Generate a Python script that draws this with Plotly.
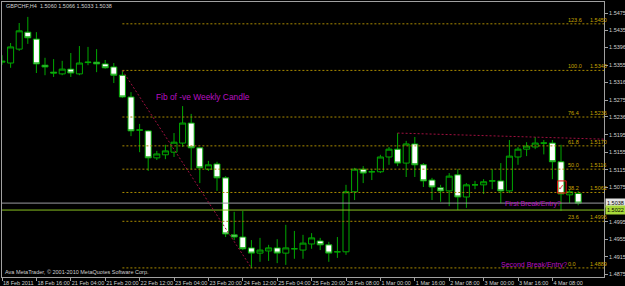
import plotly.graph_objects as go

# ---------------- data ----------------
opens = [1.5362, 1.5360, 1.5392, 1.5431, 1.5415, 1.5355, 1.5339, 1.5335, 1.5346, 1.5335,
         1.5361, 1.5362, 1.5358, 1.5351, 1.5332, 1.5282, 1.5206, 1.5204, 1.5142, 1.5149,
         1.5155, 1.5176, 1.5222, 1.5165, 1.5116, 1.5128, 1.5096, 1.4965, 1.4960, 1.4935,
         1.4923, 1.4928, 1.4935, 1.4923, 1.4933, 1.4930, 1.4944, 1.4951, 1.4942, 1.4926,
         1.4926, 1.5064, 1.5116, 1.5110, 1.5110, 1.5144, 1.5162, 1.5130, 1.5174, 1.5126,
         1.5091, 1.5073, 1.5066, 1.5103, 1.5052, 1.5080, 1.5080, 1.5089, 1.5089, 1.5066,
         1.5144, 1.5162, 1.5167, 1.5176, 1.5176, 1.5133, 1.5057, 1.5060]
highs = [1.5378, 1.5406, 1.5452, 1.5466, 1.5431, 1.5372, 1.5369, 1.5365, 1.5383, 1.5399,
         1.5397, 1.5392, 1.5367, 1.5360, 1.5343, 1.5293, 1.5220, 1.5206, 1.5158, 1.5172,
         1.5199, 1.5261, 1.5243, 1.5167, 1.5135, 1.5133, 1.5100, 1.5018, 1.5020, 1.4953,
         1.4958, 1.4942, 1.4955, 1.4988, 1.4974, 1.4965, 1.4969, 1.4958, 1.4949, 1.4960,
         1.5080, 1.5119, 1.5123, 1.5116, 1.5149, 1.5167, 1.5199, 1.5181, 1.5190, 1.5130,
         1.5096, 1.5080, 1.5107, 1.5116, 1.5084, 1.5089, 1.5093, 1.5116, 1.5130, 1.5183,
         1.5167, 1.5178, 1.5190, 1.5183, 1.5183, 1.5172, 1.5068, 1.5066]
lows = [1.5356, 1.5349, 1.5388, 1.5404, 1.5337, 1.5332, 1.5328, 1.5332, 1.5328, 1.5332,
        1.5355, 1.5339, 1.5347, 1.5314, 1.5280, 1.5192, 1.5155, 1.5112, 1.5137, 1.5139,
        1.5144, 1.5167, 1.5116, 1.5084, 1.5112, 1.5066, 1.4960, 1.4953, 1.4930, 1.4889,
        1.4903, 1.4905, 1.4900, 1.4896, 1.4910, 1.4910, 1.4933, 1.4930, 1.4903, 1.4912,
        1.4919, 1.5045, 1.5084, 1.5091, 1.5107, 1.5126, 1.5123, 1.5098, 1.5098, 1.5075,
        1.5045, 1.5041, 1.5031, 1.5022, 1.5027, 1.5070, 1.5059, 1.5070, 1.5038, 1.5061,
        1.5126, 1.5146, 1.5162, 1.5150, 1.5093, 1.5020, 1.5038, 1.5033]
closes = [1.5364, 1.5397, 1.5434, 1.5418, 1.5358, 1.5351, 1.5337, 1.5346, 1.5337, 1.5360,
          1.5362, 1.5358, 1.5349, 1.5332, 1.5282, 1.5204, 1.5206, 1.5142, 1.5151, 1.5158,
          1.5178, 1.5222, 1.5165, 1.5119, 1.5126, 1.5096, 1.4967, 1.4960, 1.4933, 1.4923,
          1.4930, 1.4935, 1.4923, 1.4935, 1.4933, 1.4946, 1.4958, 1.4942, 1.4923, 1.4926,
          1.5064, 1.5116, 1.5107, 1.5110, 1.5144, 1.5162, 1.5130, 1.5174, 1.5126, 1.5089,
          1.5075, 1.5066, 1.5100, 1.5052, 1.5080, 1.5080, 1.5087, 1.5089, 1.5066, 1.5146,
          1.5162, 1.5169, 1.5176, 1.5176, 1.5133, 1.5059, 1.5064, 1.5038]
bars = list(range(len(opens)))

date_labels = ["18 Feb 2011", "18 Feb 16:00", "21 Feb 04:00", "21 Feb 20:00", "22 Feb 12:00",
               "23 Feb 04:00", "23 Feb 20:00", "24 Feb 12:00", "25 Feb 04:00", "25 Feb 20:00",
               "28 Feb 08:00", "1 Mar 00:00", "1 Mar 16:00", "2 Mar 08:00", "3 Mar 00:00",
               "3 Mar 16:00", "4 Mar 08:00"]
date_label_bars = [4 * k for k in range(len(date_labels))]

price_ticks = [1.5475, 1.5435, 1.5396, 1.5355, 1.5316, 1.5275, 1.5236, 1.5195, 1.5155,
               1.5115, 1.5075, 1.4995, 1.4955, 1.4915, 1.4875]

fib_levels = [0.0, 23.6, 38.2, 50.0, 61.8, 76.4, 100.0, 123.6]
fib_high = 1.5343
fib_low = 1.4889
fib_start_bar = 14
fib_end_bar = 29

trend_bars = [46, 70]
trend_prices = [1.5199, 1.5185]

bid_price = 1.5038
hline_price = 1.5022

header = "GBPCHF,H4  1.5060 1.5066 1.5033 1.5038"
copyright_text = "Ava MetaTrader, © 2001-2010 MetaQuotes Software Corp."

# ---------------- styles ----------------
X_RANGE = [0, 70]
Y_RANGE = [1.48681, 1.55003]
FIB_COLOR = "#A88A00"
FIB_TEXT = "#C8A400"
RED_DOT = "#A01040"
WICK = "#00A800"
TXT = "#D0D0D0"
MAG = "#B810C0"
FONT = "Liberation Sans"

fig = go.Figure()

# fib level lines
for lv in fib_levels:
    p = fib_low + (fib_high - fib_low) * lv / 100.0
    fig.add_trace(go.Scatter(x=[fib_start_bar, X_RANGE[1]], y=[p, p], mode="lines",
                             line=dict(color=FIB_COLOR, width=1, dash="2px,2px"),
                             hoverinfo="skip", showlegend=False))
    fig.add_annotation(x=0.9377, xref="paper", y=p, yref="y", text=f"{lv:.1f}",
                       showarrow=False, xanchor="left", yanchor="bottom", yshift=-1,
                       font=dict(family=FONT, size=5.5, color=FIB_TEXT))
    fig.add_annotation(x=0.974, xref="paper", y=p, yref="y", text=f"{p:.4f}",
                       showarrow=False, xanchor="left", yanchor="bottom", yshift=-1,
                       font=dict(family=FONT, size=5.5, color=FIB_TEXT))

# horizontal lines
fig.add_trace(go.Scatter(x=X_RANGE, y=[bid_price, bid_price], mode="lines",
                         line=dict(color="#9A9AA0", width=1), hoverinfo="skip", showlegend=False))
fig.add_trace(go.Scatter(x=X_RANGE, y=[hline_price, hline_price], mode="lines",
                         line=dict(color="#88C020", width=1), hoverinfo="skip", showlegend=False))

# red dotted fib anchor line and trend line
fig.add_trace(go.Scatter(x=[fib_start_bar, fib_end_bar], y=[fib_high, fib_low], mode="lines",
                         line=dict(color=RED_DOT, width=1, dash="2px,2px"),
                         hoverinfo="skip", showlegend=False))
fig.add_trace(go.Scatter(x=trend_bars, y=trend_prices, mode="lines",
                         line=dict(color=RED_DOT, width=1, dash="2px,2px"),
                         hoverinfo="skip", showlegend=False))

# candles
fig.add_trace(go.Candlestick(x=bars, open=opens, high=highs, low=lows, close=closes,
                             increasing=dict(line=dict(color=WICK, width=1), fillcolor="#000000"),
                             decreasing=dict(line=dict(color=WICK, width=1), fillcolor="#FFFFFF"),
                             whiskerwidth=0, hoverinfo="skip", showlegend=False))

# check-mark object
check_bar = 65.1
check_lo, check_hi = 1.5061, 1.5089
fig.add_shape(type="rect", x0=check_bar - 0.5, x1=check_bar + 0.5, y0=check_lo, y1=check_hi,
              xref="x", yref="y", line=dict(color="#E01010", width=1))
fig.add_annotation(x=check_bar, y=(check_lo + check_hi) / 2, text="✓", showarrow=False,
                   font=dict(family="DejaVu Sans", size=8, color="#E01010"))

# text objects
fig.add_annotation(x=17.67, y=1.5282, text="Fib of -ve Weekly Candle", showarrow=False,
                   xanchor="left", yanchor="middle", font=dict(family=FONT, size=8.4, color=MAG))
fig.add_annotation(x=58.26, y=1.5036, text="First Break/Entry?", showarrow=False,
                   xanchor="left", yanchor="middle", font=dict(family=FONT, size=7, color=MAG))
fig.add_annotation(x=57.8, y=1.4896, text="Second Break/Entry?", showarrow=False,
                   xanchor="left", yanchor="middle", font=dict(family=FONT, size=7, color=MAG))

# header / footer
fig.add_annotation(x=0.0033, xref="paper", y=0.985, yref="paper", text=header, showarrow=False,
                   xanchor="left", yanchor="middle", font=dict(family=FONT, size=5.5, color=TXT))
fig.add_annotation(x=0.0017, xref="paper", y=0.018, yref="paper", text=copyright_text,
                   showarrow=False, xanchor="left", yanchor="middle",
                   font=dict(family=FONT, size=5.5, color=TXT))

# price boxes on the axis
fig.add_annotation(x=1.0, xref="paper", y=bid_price, yref="y", text=f"{bid_price:.4f}",
                   showarrow=False, xanchor="left", yanchor="middle", xshift=1,
                   bgcolor="#E4E4E4", borderpad=1,
                   font=dict(family=FONT, size=5.5, color="#000000"))
fig.add_annotation(x=1.0, xref="paper", y=hline_price, yref="y", text=f"{hline_price:.4f}",
                   showarrow=False, xanchor="left", yanchor="middle", xshift=1,
                   bgcolor="#A8D83A", borderpad=1,
                   font=dict(family=FONT, size=5.5, color="#000000"))

fig.update_layout(
    width=625, height=286,
    margin=dict(l=2, r=21, t=2, b=9, autoexpand=False),
    paper_bgcolor="#000000", plot_bgcolor="#000000",
    boxgap=0.3, boxgroupgap=0.0,
    showlegend=False,
    xaxis=dict(range=X_RANGE, rangeslider=dict(visible=False), showgrid=False, zeroline=False,
               tickmode="array", tickvals=date_label_bars, ticktext=date_labels,
               tickangle=0, automargin=False,
               ticklabelposition="outside right", ticks="outside", ticklen=3,
               tickcolor="#A0A0A0", showline=True, linecolor="#A0A0A0", linewidth=1,
               mirror=True, tickfont=dict(family=FONT, size=5.5, color=TXT)),
    yaxis=dict(range=Y_RANGE, side="right", showgrid=False, zeroline=False,
               tickmode="array", tickvals=price_ticks, automargin=False,
               ticktext=[f"{v:.4f}" for v in price_ticks],
               ticks="outside", ticklen=3, tickcolor="#A0A0A0",
               showline=True, linecolor="#A0A0A0", linewidth=1, mirror=True,
               tickfont=dict(family=FONT, size=5.5, color=TXT)),
)

fig.write_html("out.html")
